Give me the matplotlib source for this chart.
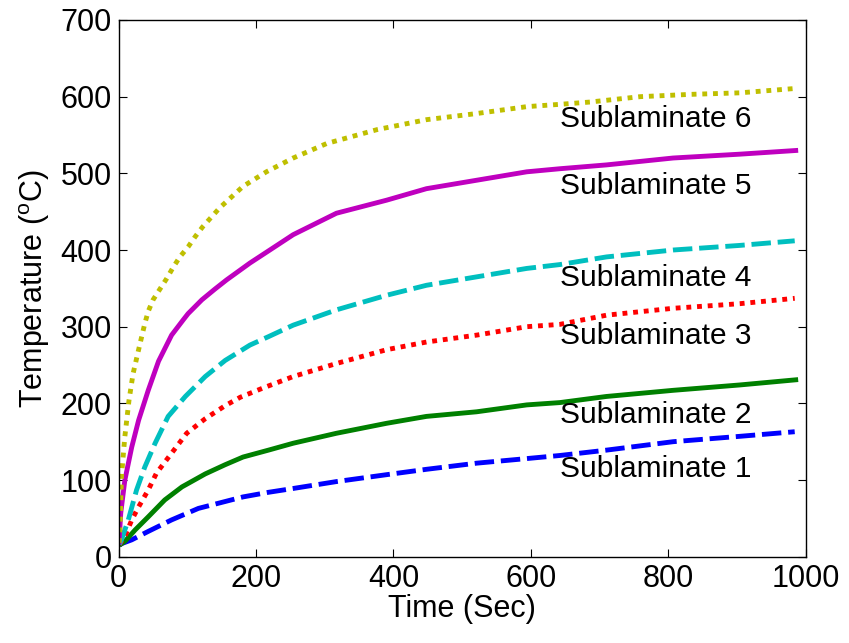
import numpy as np
from matplotlib import pyplot as plt

plt.rcParams['font.family'] = ['Liberation Sans', 'DejaVu Sans']
plt.rcParams['mathtext.fontset'] = 'custom'
plt.rcParams['mathtext.rm'] = 'Liberation Sans'

# time (sec) and temperature (C)
t6 = [0.5, 2, 4, 9, 15, 21, 29, 38, 43, 50, 60, 70, 79, 89, 101, 111, 122, 135, 147, 181, 215,
      254, 303, 376, 448, 521, 594, 642, 686, 759, 832, 904, 989]
T6 = [18, 40, 104, 157, 204, 239, 270, 304, 320, 335, 349, 363, 377, 391, 404, 417, 430, 443, 455, 483, 502,
      520, 539, 557, 570, 578, 587, 590, 593, 600, 603, 605, 611]

t5 = [0.5, 1, 3, 9, 19, 29, 43, 58, 77, 94, 101, 121, 140, 157, 191, 220, 254, 317, 390, 448, 521,
      594, 642, 710, 807, 904, 989]
T5 = [16, 26, 57, 100, 143, 178, 217, 255, 289, 309, 317, 335, 349, 361, 383, 400, 420, 448, 465, 480, 491,
      502, 506, 511, 520, 525, 530]

t4 = [1, 4, 14, 26, 38, 53, 72, 97, 126, 155, 191, 218, 254, 317, 390, 448, 521, 594, 642, 710, 807, 904, 984]
T4 = [16, 22, 48, 87, 117, 148, 183, 209, 235, 256, 276, 287, 302, 322, 341, 354, 365, 376, 381, 391, 400, 406, 412]

t3 = [1, 9, 19, 29, 43, 55, 77, 99, 126, 155, 177, 210, 254, 317, 390, 448, 521, 594, 642, 710, 807, 904, 984]
T3 = [16, 26, 48, 65, 87, 109, 135, 161, 180, 197, 208, 220, 235, 252, 270, 280, 289, 300, 303, 315, 324, 330, 337]

t2 = [1, 9, 24, 43, 67, 92, 126, 155, 181, 218, 254, 317, 390, 448, 521, 594, 642, 710, 807, 904, 989]
T2 = [15, 20, 35, 52, 74, 91, 108, 120, 130, 139, 148, 161, 174, 183, 189, 198, 201, 209, 217, 224, 231]

t1 = [1, 4, 19, 43, 77, 116, 155, 181, 218, 254, 317, 390, 448, 521, 594, 642, 710, 807, 904, 984]
T1 = [15, 17, 22, 33, 48, 63, 72, 78, 84, 89, 98, 107, 114, 122, 128, 132, 139, 150, 157, 163]

labels = ['Sublaminate 1', 'Sublaminate 2', 'Sublaminate 3',
          'Sublaminate 4', 'Sublaminate 5', 'Sublaminate 6']
label_T = [115, 185, 288, 363, 483, 571]

fig = plt.figure(figsize=(8.49, 6.43), dpi=100)
ax = fig.add_axes([0.1398, 0.1342, 0.8092, 0.8347])

lw = 3.5
dots = (0, (1, 1.2))
dash = (0, (4, 1.4))
ax.plot(t1, T1, color=(0, 0, 1), lw=lw, linestyle=dash, dash_capstyle='butt')
ax.plot(t2, T2, color=(0, 0.5, 0), lw=lw, solid_capstyle='butt')
ax.plot(t3, T3, color=(1, 0, 0), lw=lw, linestyle=dots, dash_capstyle='butt')
ax.plot(t4, T4, color=(0, 0.75, 0.75), lw=lw, linestyle=dash, dash_capstyle='butt')
ax.plot(t5, T5, color=(0.75, 0, 0.75), lw=lw, solid_capstyle='butt')
ax.plot(t6, T6, color=(0.75, 0.75, 0), lw=lw, linestyle=dots, dash_capstyle='butt')

for lab, yv in zip(labels, label_T):
    ax.text(643, yv, lab, fontsize=21.5, ha='left', va='center')

ax.set_xlim(0, 1000)
ax.set_ylim(0, 700)
ax.set_xticks(np.arange(0, 1001, 200))
ax.set_yticks(np.arange(0, 701, 100))
ax.tick_params(direction='in', top=True, right=True, length=6, labelsize=22, pad=5)
ax.set_xlabel('Time (Sec)', fontsize=22, labelpad=0)
ax.set_ylabel(r'Temperature ($^{\rm o}$C)', fontsize=22, labelpad=6)
for s in ax.spines.values():
    s.set_linewidth(1.0)

fig.savefig('out.png', dpi=100)
